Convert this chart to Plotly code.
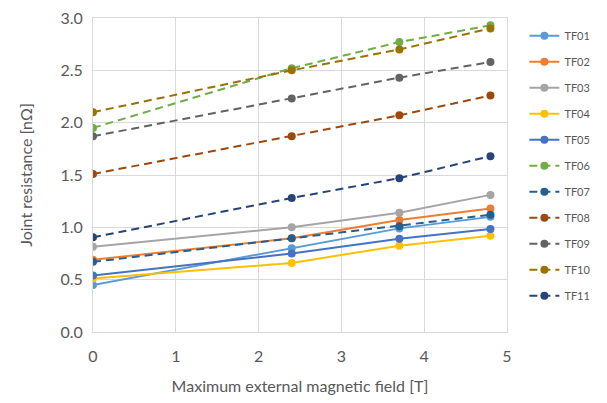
import plotly.graph_objects as go

field_T = [0, 2.4, 3.7, 4.8]
series_names = ["TF01", "TF02", "TF03", "TF04", "TF05", "TF06", "TF07", "TF08", "TF09", "TF10", "TF11"]
tf01 = [0.45, 0.80, 0.99, 1.10]
tf02 = [0.69, 0.895, 1.07, 1.18]
tf03 = [0.815, 1.0, 1.14, 1.31]
tf04 = [0.51, 0.66, 0.825, 0.92]
tf05 = [0.54, 0.75, 0.89, 0.985]
tf06 = [1.95, 2.52, 2.77, 2.93]
tf07 = [0.67, 0.895, 1.01, 1.12]
tf08 = [1.51, 1.87, 2.07, 2.26]
tf09 = [1.87, 2.23, 2.43, 2.58]
tf10 = [2.10, 2.50, 2.70, 2.90]
tf11 = [0.905, 1.28, 1.47, 1.68]
values = [tf01, tf02, tf03, tf04, tf05, tf06, tf07, tf08, tf09, tf10, tf11]
colors = ["#5B9BD5", "#ED7D31", "#A5A5A5", "#FFC000", "#4472C4", "#70AD47",
          "#255E91", "#9E480E", "#636363", "#997300", "#264478"]
dashed = [False] * 5 + [True] * 6

fig = go.Figure()
for name, ys, c, d in zip(series_names, values, colors, dashed):
    fig.add_trace(go.Scatter(
        x=field_T, y=ys, name=name, mode="lines+markers",
        line=dict(color=c, width=2, dash="8px,5px" if d else "solid"),
        marker=dict(color=c, size=8),
        legendgroup=name,
    ))

font = "Lato, Liberation Sans, sans-serif"
fig.update_layout(
    width=607, height=403,
    margin=dict(l=85, r=108, t=10, b=79),
    paper_bgcolor="white", plot_bgcolor="white",
    font=dict(family=font, color="#595959"),
    legend=dict(x=1.042, y=0.99, xanchor="left", yanchor="top",
                font=dict(size=11, color="#595959"),
                tracegroupgap=7, traceorder="grouped"),
    xaxis=dict(range=[0, 5], dtick=1, showgrid=True, gridcolor="#D9D9D9",
               showline=True, mirror=True, linecolor="#D9D9D9", zeroline=False,
               automargin=False,
               tickfont=dict(size=16), ticklabelstandoff=10, ticklabeloverflow="allow",
               title=dict(text="Maximum external magnetic field [T]", font=dict(size=16), standoff=16)),
    yaxis=dict(range=[0, 3], dtick=0.5, tickformat=".1f", showgrid=True, gridcolor="#D9D9D9",
               showline=True, mirror=True, linecolor="#D9D9D9", zeroline=False,
               automargin=False,
               tickfont=dict(size=16), ticklabelstandoff=6, ticklabeloverflow="allow",
               title=dict(text="Joint resistance [nΩ]", font=dict(size=16), standoff=23)),
)
fig.write_html("out.html")
